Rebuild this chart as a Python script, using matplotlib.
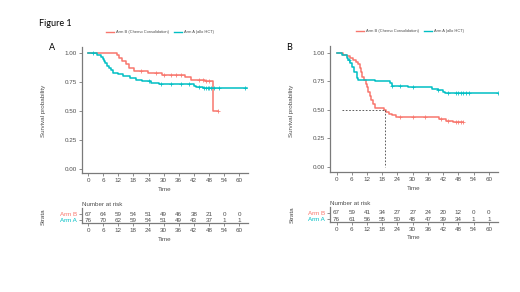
import matplotlib
matplotlib.use("Agg")
import matplotlib.pyplot as plt
from matplotlib.lines import Line2D
import numpy as np

plt.rcParams['font.family'] = ['Liberation Sans', 'DejaVu Sans']

RED = '#F8766D'
TEAL = '#00BFC4'
AXC = '#7a7a7a'
TXC = '#4d4d4d'

# ---------------- data ----------------
xticks = [0, 6, 12, 18, 24, 30, 36, 42, 48, 54, 60]
yticks = [0.00, 0.25, 0.50, 0.75, 1.00]
legend_labels = ['Arm B (Chemo Consolidation)', 'Arm A (allo HCT)']
strata = ['Arm B', 'Arm A']

# Panel A - Arm B (red)
a_b_t = [0, 11.4, 12.3, 13.5, 15.0, 16.2, 18.4, 23.8, 29.2, 38.5, 41.0, 46.5, 49.6, 51.5]
a_b_s = [1.0, 0.985, 0.960, 0.935, 0.905, 0.875, 0.845, 0.828, 0.812, 0.790, 0.765, 0.755, 0.50, 0.50]
a_b_cens = [21, 27, 30, 33, 35, 37, 44, 45.5, 47, 48, 51.5]
# Panel A - Arm A (teal)
a_a_t = [0, 3.5, 5.0, 5.8, 6.3, 6.8, 7.5, 8.2, 9.0, 10.0, 12.0, 14.0, 16.5, 19.0, 21.5, 25.0, 28.0, 42.0, 43.0, 45.5, 63.0]
a_a_s = [1.0, 0.987, 0.970, 0.950, 0.930, 0.910, 0.890, 0.870, 0.850, 0.830, 0.815, 0.800, 0.785, 0.770, 0.755, 0.745, 0.735, 0.720, 0.710, 0.695, 0.695]
a_a_cens = [2, 24, 29, 33, 37, 40, 44, 46, 46.8, 47.5, 48.2, 49, 50, 52, 62.5]

# Panel B - Arm B (red)
b_b_t = [0, 2.5, 4.0, 5.5, 6.5, 7.5, 8.5, 9.2, 9.7, 10.2, 10.8, 11.5, 12.0, 12.5, 13.0, 13.5, 14.2, 15.0, 18.8, 19.5, 20.5, 22.0, 23.5, 40.5, 43.0, 46.0, 50.0]
b_b_s = [1.0, 0.985, 0.970, 0.955, 0.940, 0.920, 0.900, 0.870, 0.830, 0.790, 0.760, 0.730, 0.700, 0.660, 0.620, 0.590, 0.550, 0.520, 0.500, 0.480, 0.465, 0.450, 0.435, 0.415, 0.400, 0.390, 0.390]
b_b_cens = [25, 30, 35, 41, 44, 47, 48, 49, 50]
# Panel B - Arm A (teal)
b_a_t = [0, 2.0, 4.0, 4.7, 5.4, 6.0, 6.7, 8.0, 8.6, 15.2, 21.0, 21.7, 28.3, 37.5, 40.0, 42.0, 42.7, 63.5]
b_a_s = [1.0, 0.980, 0.955, 0.940, 0.910, 0.880, 0.835, 0.780, 0.760, 0.750, 0.735, 0.712, 0.700, 0.680, 0.670, 0.654, 0.645, 0.645]
b_a_cens = [5, 22, 25, 30, 40, 44, 47, 48, 49, 50, 51, 52, 63.5]
b_median = 19.2

# Numbers at risk
risk_a_b = [67, 64, 59, 54, 51, 49, 46, 38, 21, 0, 0]
risk_a_a = [76, 70, 62, 59, 54, 51, 49, 43, 37, 1, 1]
risk_b_b = [67, 59, 41, 34, 27, 27, 24, 20, 12, 0, 0]
risk_b_a = [76, 61, 56, 55, 50, 48, 47, 39, 34, 1, 1]

# ---------------- figure ----------------
W, H = 520, 292
fig = plt.figure(figsize=(W / 100, H / 100), dpi=100)
fig.patch.set_facecolor('white')

FS_TICK = 4.5
FS_LAB = 4.5


def px_axes(l, t, r, b):
    return fig.add_axes([l / W, 1 - b / H, (r - l) / W, (b - t) / H])


def style(ax):
    for s in ['top', 'right']:
        ax.spines[s].set_visible(False)
    for s in ['left', 'bottom']:
        ax.spines[s].set_color(AXC)
        ax.spines[s].set_linewidth(0.9)
    ax.tick_params(colors=AXC, labelcolor=TXC, labelsize=FS_TICK, length=2, width=0.6, pad=1.8)


def km(ax, t, s, cens, color):
    t = np.asarray(t)
    s = np.asarray(s)
    ax.step(t, s, where='post', color=color, lw=1.1)
    cy = [s[np.searchsorted(t, c, side='right') - 1] for c in cens]
    ax.plot(cens, cy, '+', color=color, ms=2.4, mew=0.55)


def main_panel(l, t, r, b, xl, yl, curves, letter, lx, ly, legx, legy, ylx):
    ax = px_axes(l, t, r, b)
    style(ax)
    for (tt, ss, cc, col) in curves:
        km(ax, tt, ss, cc, col)
    ax.set_xlim(*xl)
    ax.set_ylim(*yl)
    ax.set_xticks(xticks)
    ax.set_yticks(yticks)
    ax.set_yticklabels(['%.2f' % v for v in yticks])
    ax.set_xlabel('Time', fontsize=FS_LAB, color=TXC, labelpad=2.5)
    fig.text(ylx / W, 1 - 111 / H, 'Survival probability', rotation=90, fontsize=FS_LAB,
             color=TXC, ha='center', va='center')
    fig.text(lx / W, 1 - ly / H, letter, fontsize=6.5, family='Lato', ha='center', va='center')
    handles = [Line2D([], [], color=RED, lw=1.0), Line2D([], [], color=TEAL, lw=1.0)]
    fig.legend(handles, legend_labels, loc='center', bbox_to_anchor=(legx / W, 1 - legy / H),
               ncol=2, frameon=False, fontsize=2.9, handlelength=2.2, handletextpad=0.5,
               columnspacing=1.0, labelcolor=TXC)
    return ax


def risk_panel(l, t, r, b, xl, rb, ra, ypos, sx, sy):
    ax = px_axes(l, t, r, b)
    style(ax)
    ax.set_xlim(*xl)
    ax.set_ylim(0, 1)
    for x, v in zip(xticks, rb):
        ax.text(x, ypos[0], str(v), ha='center', va='center', fontsize=FS_TICK, color=TXC)
    for x, v in zip(xticks, ra):
        ax.text(x, ypos[1], str(v), ha='center', va='center', fontsize=FS_TICK, color=TXC)
    ax.set_xticks(xticks)
    ax.set_yticks(ypos)
    ax.set_yticklabels(strata, fontsize=FS_TICK)
    for lab, c in zip(ax.get_yticklabels(), [RED, TEAL]):
        lab.set_color(c)
    ax.set_xlabel('Time', fontsize=FS_LAB, color=TXC, labelpad=2.5)
    ax.text(0, 1.05, 'Number at risk', transform=ax.transAxes, ha='left', va='bottom',
            fontsize=FS_LAB, color=TXC)
    fig.text(sx / W, 1 - sy / H, 'Strata', rotation=90, fontsize=FS_LAB, color=TXC,
             ha='center', va='center')
    return ax


fig.text(39 / W, 1 - 23 / H, 'Figure 1', fontsize=6.5, family='Lato', ha='left', va='center')

# Panel A
main_panel(82, 47, 248, 173, (-2.4, 63.5), (-0.034, 1.052),
           [(a_b_t, a_b_s, a_b_cens, RED), (a_a_t, a_a_s, a_a_cens, TEAL)],
           'A', 52, 48, 160, 32, 43)
risk_panel(82, 208, 248, 223, (-2.4, 63.5), risk_a_b, risk_a_a, [0.6, 0.17], 43, 217)

# Panel B
axB = main_panel(330, 46, 498, 172, (-2.56, 63.6), (-0.048, 1.062),
                 [(b_b_t, b_b_s, b_b_cens, RED), (b_a_t, b_a_s, b_a_cens, TEAL)],
                 'B', 289, 47, 410, 31, 292)
axB.plot([2, b_median], [0.5, 0.5], ls=(0, (2, 2)), color='#444444', lw=0.6)
axB.plot([b_median, b_median], [0.5, 0.0], ls=(0, (2, 2)), color='#444444', lw=0.6)
risk_panel(330, 207, 498, 221.5, (-2.56, 63.6), risk_b_b, risk_b_a, [0.62, 0.14], 292, 215)

fig.savefig('out.png', dpi=100, facecolor='white')
